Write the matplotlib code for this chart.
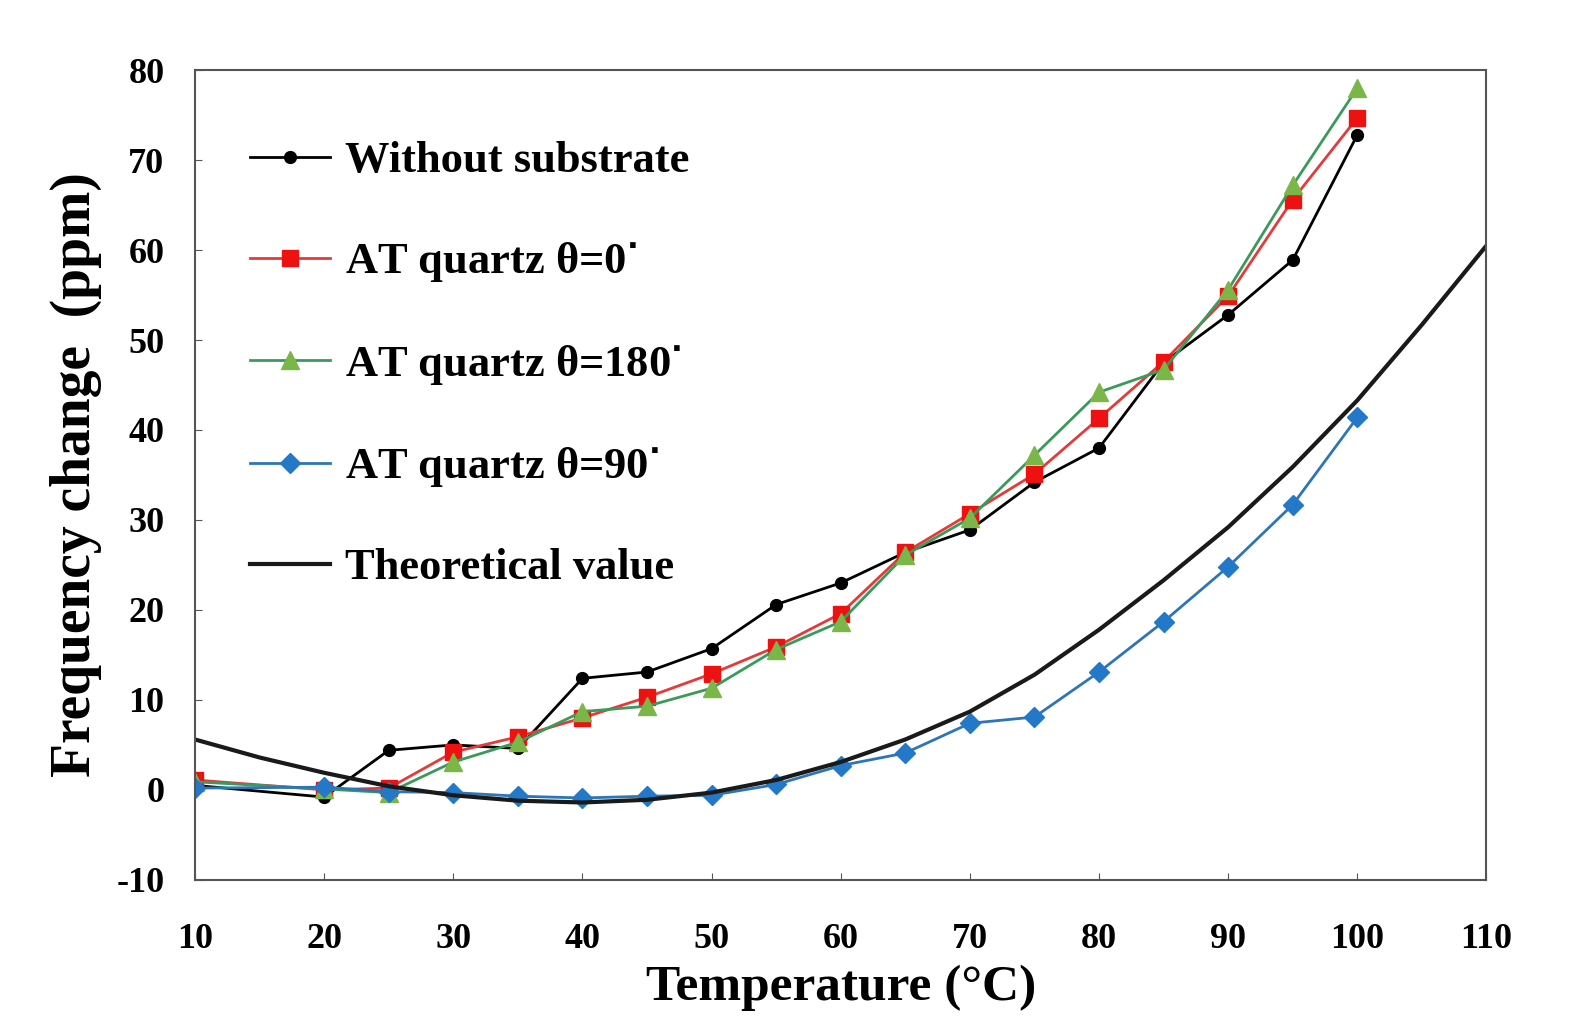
import matplotlib.pyplot as plt
import numpy as np

# Fonts setting
plt.rcParams['font.family'] = ['Liberation Serif', 'DejaVu Serif']
plt.rcParams['font.weight'] = 'bold'
plt.rcParams['axes.unicode_minus'] = False

# Data
temp = [10, 20, 25, 30, 35, 40, 45, 50, 55, 60, 65, 70, 75, 80, 85, 90, 95, 100]
without_sub = [0.5, -0.8, 4.4, 5.0, 4.6, 12.4, 13.1, 15.7, 20.6, 23.0, 26.4, 28.9,
               34.2, 38.0, 47.5, 52.8, 58.9, 72.8]
quartz_0 = [1.1, 0.0, 0.2, 4.2, 5.9, 8.0, 10.3, 12.9, 15.9, 19.6, 26.4, 30.7,
            35.1, 41.3, 47.6, 54.9, 65.6, 74.7]
quartz_180 = [0.9, 0.1, -0.3, 3.1, 5.3, 8.7, 9.3, 11.3, 15.6, 18.7, 26.1, 30.2,
              37.2, 44.2, 46.7, 55.6, 67.2, 78.0]
quartz_90 = [0.2, 0.3, -0.2, -0.3, -0.7, -0.9, -0.7, -0.6, 0.6, 2.7, 4.1, 7.4,
             8.1, 13.1, 18.7, 24.8, 31.7, 41.4]

theo_t = [10, 15, 20, 25, 30, 35, 40, 45, 50, 55, 60, 65, 70, 75, 80, 85, 90,
          95, 100, 105, 110]
theo_v = [5.6, 3.6, 1.9, 0.4, -0.6, -1.2, -1.4, -1.1, -0.3, 1.1, 3.1, 5.6, 8.7,
          12.8, 17.8, 23.3, 29.2, 35.9, 43.3, 51.7, 60.5]

fig = plt.figure(figsize=(15.73, 10.16), dpi=100)
ax = fig.add_axes([0.124, 0.134, 0.821, 0.797])

ax.plot(temp, without_sub, color='black', lw=2, marker='o', ms=8.5,
        label='Without substrate')
ax.plot(temp, quartz_0, color='#e53a3a', lw=2, marker='s', ms=11.5,
        mfc='#ee1111', mec='#ee1111', label='AT quartz θ=0$^{\\bullet}$')
ax.plot(temp, quartz_180, color='#3a9a5a', lw=2, marker='^', ms=13,
        mfc='#7ab648', mec='#7ab648', label='AT quartz θ=180$^{\\bullet}$')
ax.plot(temp, quartz_90, color='#2e75b6', lw=2, marker='D', ms=10,
        mfc='#2478c8', mec='#2478c8', label='AT quartz θ=90$^{\\bullet}$')
ax.plot(theo_t, theo_v, color='#1a1a1a', lw=3, label='Theoretical value')

ax.set_xlim(10, 110)
ax.set_ylim(-10, 80)
ax.set_xticks(np.arange(10, 111, 10))
ax.set_yticks(np.arange(-10, 81, 10))
ax.tick_params(direction='in', length=5, labelsize=26, color='#555555')
ax.tick_params(axis='x', pad=31)
ax.tick_params(axis='y', pad=22)
for lab in ax.get_xticklabels() + ax.get_yticklabels():
    lab.set_fontweight('bold')
for sp in ax.spines.values():
    sp.set_color('#555555')
    sp.set_linewidth(1.5)

ax.set_xlabel('Temperature (°C)', fontsize=37, fontweight='bold', labelpad=6)
ax.set_ylabel('Frequency change  (ppm)', fontsize=40, fontweight='bold',
              labelpad=10)

leg = ax.legend(loc='upper left', frameon=False, fontsize=32, labelspacing=1.32,
                handlelength=1.8, handletextpad=0.33, borderaxespad=0,
                bbox_to_anchor=(0.029, 0.934))
for t in leg.get_texts():
    t.set_fontweight('bold')

fig.savefig('out.png', dpi=100)
